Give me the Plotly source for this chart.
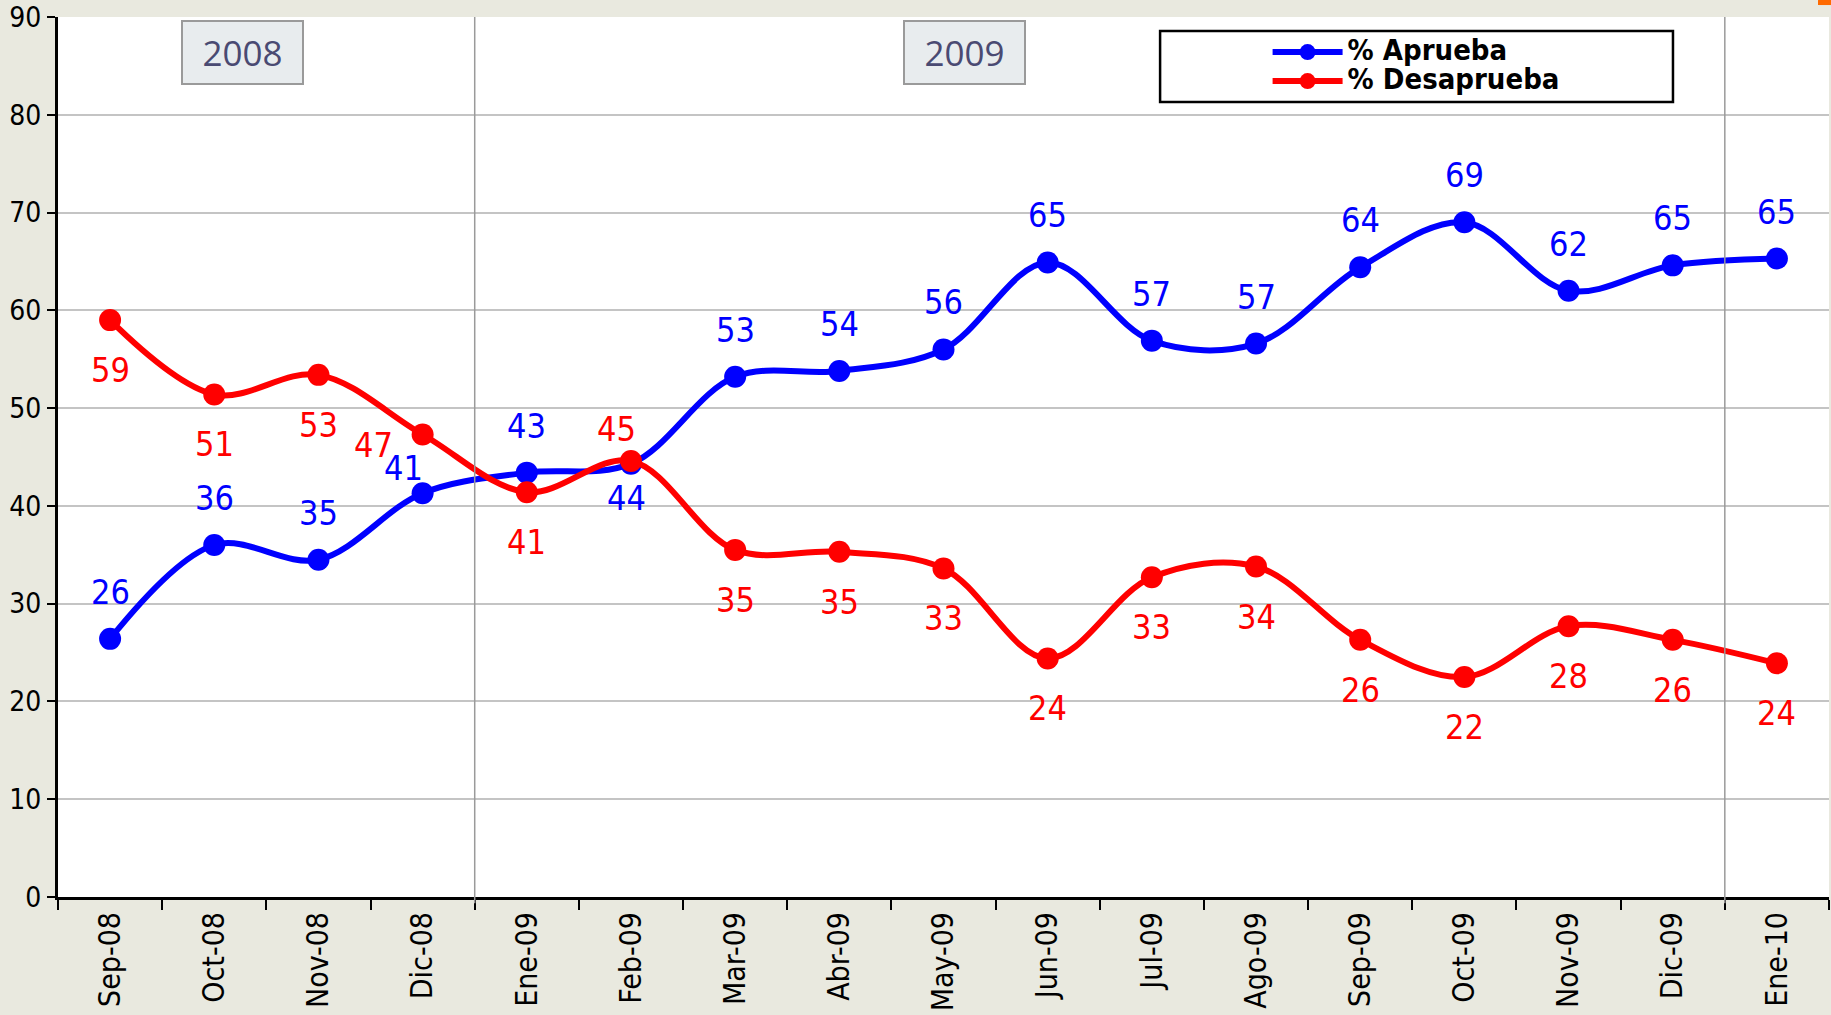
import plotly.graph_objects as go

months = ["Sep-08", "Oct-08", "Nov-08", "Dic-08", "Ene-09", "Feb-09", "Mar-09", "Abr-09",
          "May-09", "Jun-09", "Jul-09", "Ago-09", "Sep-09", "Oct-09", "Nov-09", "Dic-09", "Ene-10"]
aprueba = [26.4, 36.0, 34.5, 41.3, 43.4, 44.3, 53.2, 53.8, 56.0, 64.9, 56.9, 56.6, 64.4, 69.0, 62.0, 64.6, 65.3]
desaprueba = [59.0, 51.4, 53.4, 47.3, 41.4, 44.6, 35.5, 35.3, 33.6, 24.4, 32.7, 33.8, 26.3, 22.5, 27.7, 26.3, 23.9]
aprueba_labels = [26, 36, 35, 41, 43, 44, 53, 54, 56, 65, 57, 57, 64, 69, 62, 65, 65]
desaprueba_labels = [59, 51, 53, 47, 41, 45, 35, 35, 33, 24, 33, 34, 26, 22, 28, 26, 24]
year_labels = ["2008", "2009"]
y_ticks = list(range(0, 100, 10))

BLUE = "#0000FF"
RED = "#FF0000"
BG = "#E9E9DF"
COND = "DejaVu Sans Condensed, DejaVu Sans"

fig = go.Figure()
fig.add_trace(go.Scatter(x=months, y=aprueba,
                         name="<span style='font-size:29px'>% Aprueba</span>", mode="lines+markers",
                         line=dict(color=BLUE, width=6, shape="spline", smoothing=1),
                         marker=dict(color=BLUE, size=22)))
fig.add_trace(go.Scatter(x=months, y=desaprueba,
                         name="<span style='font-size:29px'>% Desaprueba</span>", mode="lines+markers",
                         line=dict(color=RED, width=6, shape="spline", smoothing=1),
                         marker=dict(color=RED, size=22)))

# data labels (default offsets; a few moved to avoid overlaps, as in the original)
blue_shift = {3: (-19, 25), 5: (-4, -34)}
red_shift = {3: (-49, -10), 5: (-14, 32)}
annots = []
for i, m in enumerate(months):
    dx, dy = blue_shift.get(i, (0, 47))
    annots.append(dict(x=m, y=aprueba[i], text=str(aprueba_labels[i]), showarrow=False,
                       xshift=dx, yshift=dy, font=dict(family=COND, size=34, color=BLUE)))
    dx, dy = red_shift.get(i, (0, -50))
    annots.append(dict(x=m, y=desaprueba[i], text=str(desaprueba_labels[i]), showarrow=False,
                       xshift=dx, yshift=dy, font=dict(family=COND, size=34, color=RED)))

# year boxes
for txt, xp in zip(year_labels, [0.104, 0.512]):
    annots.append(dict(xref="paper", yref="paper", x=xp, y=0.96, text=txt, showarrow=False,
                       xanchor="center", yanchor="middle", width=117, height=59,
                       bgcolor="#E8ECEE", bordercolor="#9A9A9A", borderwidth=2, borderpad=1,
                       font=dict(family="Open Sans", size=35, color="#4A4A72")))

shapes = [
    dict(type="line", xref="x", yref="paper", x0=3.5, x1=3.5, y0=-0.007, y1=1,
         line=dict(color="#9A9A9A", width=1.5)),
    dict(type="line", xref="x", yref="paper", x0=15.5, x1=15.5, y0=-0.007, y1=1,
         line=dict(color="#9A9A9A", width=1.5)),
    dict(type="rect", xref="paper", yref="paper", x0=0.6223, x1=0.9119, y0=0.9034, y1=0.9841,
         line=dict(color="black", width=2.5), fillcolor="white", layer="below"),
    dict(type="rect", xref="paper", yref="paper", x0=0.9938, x1=1.0015, y0=1.0136, y1=1.0193,
         line=dict(width=0), fillcolor="#FF6A00"),
]

fig.update_layout(
    width=1831, height=1015,
    margin=dict(l=58, r=2, t=17, b=118, autoexpand=False),
    paper_bgcolor=BG, plot_bgcolor="white",
    showlegend=True,
    legend=dict(x=0.683, y=0.9437, xanchor="left", yanchor="middle",
                bgcolor="rgba(0,0,0,0)", borderwidth=0, itemwidth=70,
                tracegroupgap=0,
                font=dict(family=COND, size=20, color="black", weight="bold")),
    annotations=annots, shapes=shapes,
)
fig.update_xaxes(type="category", range=[-0.5, len(months) - 0.5],
                 showline=True, linecolor="black", linewidth=3,
                 ticks="outside", tickson="boundaries", ticklen=10, tickwidth=2, tickcolor="black",
                 tickangle=-90, showgrid=False, automargin=False,
                 tickfont=dict(family=COND, size=30, color="black"))
fig.update_yaxes(range=[0, 90], tickvals=y_ticks, showline=True, linecolor="black", linewidth=3,
                 ticks="outside", ticklen=8, tickwidth=2, tickcolor="black", automargin=False,
                 showgrid=True, gridcolor="#C4C4C4", gridwidth=2, zeroline=False,
                 tickfont=dict(family=COND, size=28, color="black"))

fig.write_html("out.html", config={"displayModeBar": False},
               post_script="document.body.style.margin='0';document.body.style.overflow='hidden';"
                           "document.body.style.background='" + BG + "';")
